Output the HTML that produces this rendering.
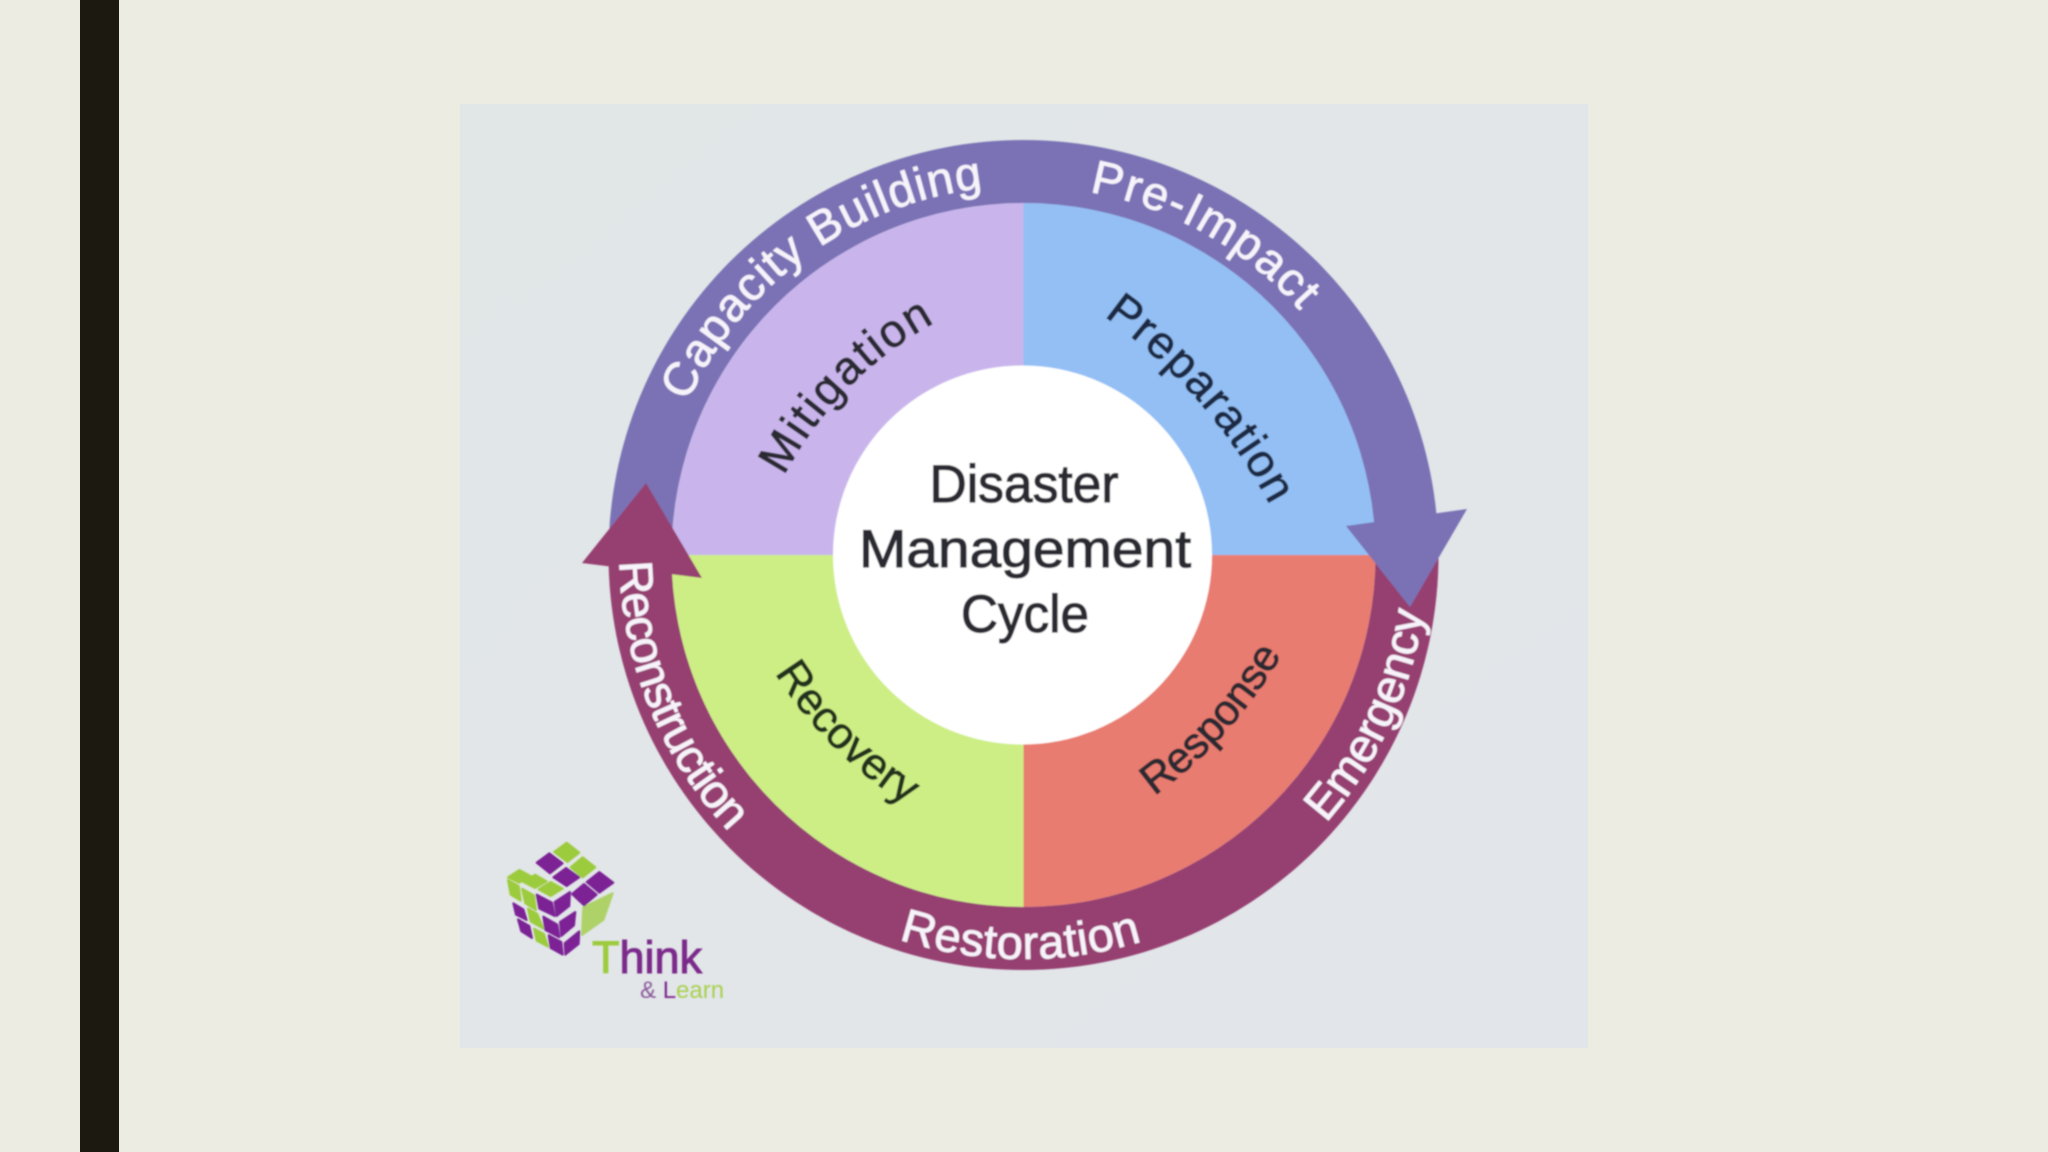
<!DOCTYPE html>
<html>
<head>
<meta charset="utf-8">
<style>
html,body{margin:0;padding:0;width:2048px;height:1152px;overflow:hidden;background:#ecece3}
svg{display:block}
text{font-family:"Liberation Sans",sans-serif}
</style>
</head>
<body>
<svg xmlns="http://www.w3.org/2000/svg" width="2048" height="1152" viewBox="0 0 2048 1152">
<defs>
<linearGradient id="panel" x1="0" y1="0" x2="1" y2="1"><stop offset="0" stop-color="#e1e7e7"/><stop offset="1" stop-color="#e2e5ea"/></linearGradient>
<filter id="b" x="-5%" y="-5%" width="110%" height="110%"><feGaussianBlur stdDeviation="0.8"/></filter>
<path id="cw" d="M1023.5,924 A369,369 0 1 1 1023.5,186 A369,369 0 1 1 1023.5,924"/>
<path id="ccw" d="M1023.5,151 A404,404 0 1 0 1023.5,959 A404,404 0 1 0 1023.5,151"/>
<path id="pMit" d="M784,476 Q837,377 934,323"/>
<path id="pPre" d="M1104,316 Q1209,391 1270,505"/>
<path id="pRes" d="M1154,796 Q1232,740 1281,656"/>
<path id="pRec" d="M775,673 Q825,753 908,806"/>
</defs>
<rect width="2048" height="1152" fill="#ecece3"/>
<rect x="80" y="0" width="39" height="1152" fill="#1c1a10"/>
<rect x="460" y="104" width="1128" height="944" fill="url(#panel)"/>
<g filter="url(#b)">
<path d="M1023.5,555 L1023.5,203 A352,352 0 0 1 1375.5,555 Z" fill="#93bff5"/>
<path d="M1023.5,555 L1375.5,555 A352,352 0 0 1 1023.5,907 Z" fill="#e97b70"/>
<path d="M1023.5,555 L1023.5,907 A352,352 0 0 1 671.5,555 Z" fill="#cdee85"/>
<path d="M1023.5,555 L671.5,555 A352,352 0 0 1 1023.5,203 Z" fill="#c9b5ec"/>
<path d="M608.5,555 A415,415 0 0 1 1438.5,555 L1375.5,555 A352,352 0 0 0 671.5,555 Z" fill="#7a72b5"/>
<path d="M1438.5,555 A415,415 0 0 1 608.5,555 L671.5,555 A352,352 0 0 0 1375.5,555 Z" fill="#963f71"/>
<polygon points="1346,526 1467,509 1410,607" fill="#7a72b5"/>
<polygon points="646,483 702,578 582,563" fill="#963f71"/>
<circle cx="1022.5" cy="555" r="189.5" fill="#fff"/>

<g fill="#f7f3fa" stroke="#f7f3fa" stroke-width=".7" font-size="47">
<text><textPath href="#cw" startOffset="737" textLength="381" lengthAdjust="spacing">Capacity Building</textPath></text>
<text><textPath href="#cw" startOffset="1225" textLength="246" lengthAdjust="spacing">Pre-Impact</textPath></text>
<text><textPath href="#ccw" startOffset="641" textLength="298" lengthAdjust="spacing">Reconstruction</textPath></text>
<text><textPath href="#ccw" startOffset="1142" textLength="247" lengthAdjust="spacing">Restoration</textPath></text>
<text><textPath href="#ccw" startOffset="1610" textLength="236" lengthAdjust="spacing">Emergency</textPath></text>
</g>
<g fill="#2a2a33" stroke="#2a2a33" stroke-width="1">
<text font-size="46"><textPath href="#pMit" textLength="218" lengthAdjust="spacing">Mitigation</textPath></text>
<text font-size="46" fill="#1f2a44" stroke="#1f2a44"><textPath href="#pPre" textLength="254" lengthAdjust="spacing">Preparation</textPath></text>
<text font-size="43"><textPath href="#pRes" textLength="192" lengthAdjust="spacing">Response</textPath></text>
<text font-size="44" fill="#22301c" stroke="#22301c"><textPath href="#pRec" textLength="188" lengthAdjust="spacing">Recovery</textPath></text>
<g font-size="53" text-anchor="middle" stroke-width="1.2">
<text x="1024" y="502" textLength="189" lengthAdjust="spacingAndGlyphs">Disaster</text>
<text x="1025" y="567" textLength="332" lengthAdjust="spacingAndGlyphs">Management</text>
<text x="1025" y="632" textLength="128" lengthAdjust="spacingAndGlyphs">Cycle</text>
</g>
</g>

<g transform="translate(480 820) scale(.3333)" stroke-width="6" stroke-linejoin="round">
<g fill="#9ccb3c" stroke="#9ccb3c">
<polygon points="260,68 298,98 262,126 222,96"/>
<polygon points="308,112 346,142 308,172 272,142"/>
<polygon points="118,150 152,168 118,188 84,172"/>
<polygon points="165,164 200,184 165,204 130,186"/>
<polygon points="212,186 248,206 212,228 176,208"/>
<polygon points="84,180 116,198 122,242 92,224"/>
<polygon points="126,206 162,226 168,270 136,250"/>
<polygon points="144,266 172,282 190,326 152,304"/>
<polygon points="162,326 192,342 204,380 170,362"/>
<polygon points="310,262 398,220 370,300 306,345" opacity=".75"/>
</g>
<g fill="#7b2495" stroke="#7b2495">
<polygon points="208,100 248,130 210,160 170,128"/>
<polygon points="258,144 298,172 260,198 220,172"/>
<polygon points="358,156 400,188 358,218 320,186"/>
<polygon points="312,192 350,224 312,256 276,222"/>
<polygon points="100,250 130,268 140,300 108,284"/>
<polygon points="114,298 148,318 156,354 124,334"/>
<polygon points="170,224 216,248 224,288 178,266"/>
<polygon points="190,290 232,314 238,352 196,330"/>
<polygon points="206,346 244,366 248,404 212,384"/>
<polygon points="224,246 270,216 268,258 230,288"/>
<polygon points="240,306 286,276 282,316 244,348"/>
<polygon points="254,370 298,334 296,372 256,404"/>
</g>
</g>
<text x="592" y="973" font-size="45" stroke-width="1"><tspan fill="#9ccb3c" stroke="#9ccb3c">T</tspan><tspan fill="#7b2a8a" stroke="#7b2a8a">hink</tspan></text>
<text x="640" y="998" font-size="24"><tspan fill="#8a5a9a">&amp; </tspan><tspan fill="#7b2a8a">L</tspan><tspan fill="#a9d050">earn</tspan></text>
</g>
</svg>
</body>
</html>
